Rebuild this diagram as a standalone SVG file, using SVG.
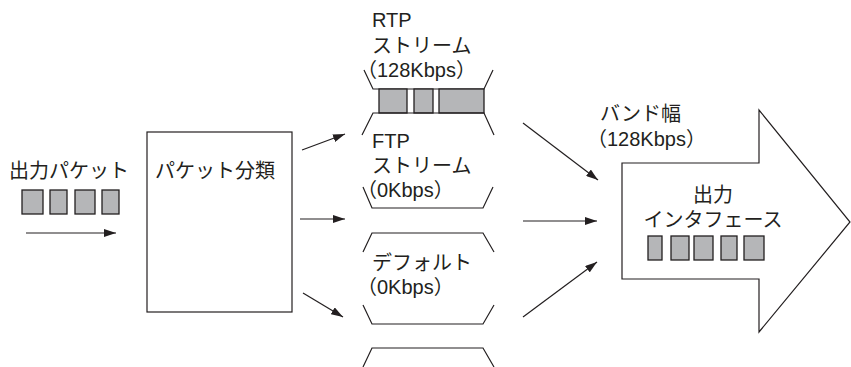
<svg xmlns="http://www.w3.org/2000/svg" width="851" height="367" viewBox="0 0 851 367">
<style>
text{font-family:"Liberation Sans","Noto Sans CJK JP",sans-serif;font-size:20px;fill:#231f20}
.ln{fill:none;stroke:#231f20;stroke-width:1.2}
.pk{fill:#b5b6b8;stroke:#231f20;stroke-width:1.3}
.ar{fill:none;stroke:#231f20;stroke-width:1.2;marker-end:url(#ah)}
</style>
<defs>
<marker id="ah" viewBox="0 0 12 8" refX="12" refY="4" markerWidth="12" markerHeight="8" markerUnits="userSpaceOnUse" orient="auto">
<path d="M0,0 L12,4 L0,8 Z" fill="#231f20"/>
</marker>
</defs>
<rect width="851" height="367" fill="#fff"/>
<g id="input">
<text x="9" y="178">出力パケット</text>
<rect class="pk" x="22" y="190" width="21" height="24"/>
<rect class="pk" x="50" y="190" width="17" height="24"/>
<rect class="pk" x="75" y="190" width="20" height="24"/>
<rect class="pk" x="102" y="190" width="17" height="24"/>
</g>
<g id="classifier">
<rect class="ln" x="147" y="132" width="145" height="180"/>
<text x="155" y="178">パケット分類</text>
</g>
<g id="rtp-queue">
<text x="372" y="27">RTP</text>
<text x="372" y="53">ストリーム</text>
<text x="357" y="77">（128Kbps）</text>
<path class="ln" d="M364,70 L373,89 L484,89 L493,70"/>
<rect class="pk" x="379" y="89" width="28" height="24"/>
<rect class="pk" x="414" y="89" width="19" height="24"/>
<rect class="pk" x="439" y="89" width="45" height="24"/>
<path class="ln" d="M362,135 L373,113 L484,113 L494,135"/>
</g>
<g id="ftp-queue">
<text x="372" y="148">FTP</text>
<text x="372" y="173">ストリーム</text>
<text x="357" y="197">（0Kbps）</text>
<path class="ln" d="M363,187 L372,208 L483,208 L493,187"/>
</g>
<g id="default-queue">
<path class="ln" d="M363,252 L372,233 L483,233 L494,252"/>
<text x="372" y="270">デフォルト</text>
<text x="357" y="294">（0Kbps）</text>
<path class="ln" d="M363,305 L372,324 L483,324 L494,305"/>
<path class="ln" d="M363,367 L372,348 L483,348 L494,367"/>
</g>
<g id="output-interface">
<path class="ln" d="M622,163 L759,163 L759,110 L850,222 L759,332 L759,279 L622,279 Z"/>
<text x="600" y="121">バンド幅</text>
<text x="587" y="146">（128Kbps）</text>
<text x="713" y="202" text-anchor="middle">出力</text>
<text x="713" y="227" text-anchor="middle">インタフェース</text>
<rect class="pk" x="648" y="236" width="14" height="24"/>
<rect class="pk" x="671" y="236" width="18" height="24"/>
<rect class="pk" x="694" y="236" width="19" height="24"/>
<rect class="pk" x="721" y="236" width="16" height="24"/>
<rect class="pk" x="744" y="236" width="20" height="24"/>
</g>
<g id="connectors">
<line class="ar" x1="26" y1="233" x2="116" y2="233"/>
<line class="ar" x1="302" y1="150" x2="345" y2="134"/>
<line class="ar" x1="300" y1="219" x2="345" y2="219"/>
<line class="ar" x1="303" y1="293" x2="343" y2="317"/>
<line class="ar" x1="523" y1="123" x2="598" y2="180"/>
<line class="ar" x1="523" y1="221" x2="597" y2="221"/>
<line class="ar" x1="523" y1="317" x2="597" y2="262"/>
</g>
</svg>
